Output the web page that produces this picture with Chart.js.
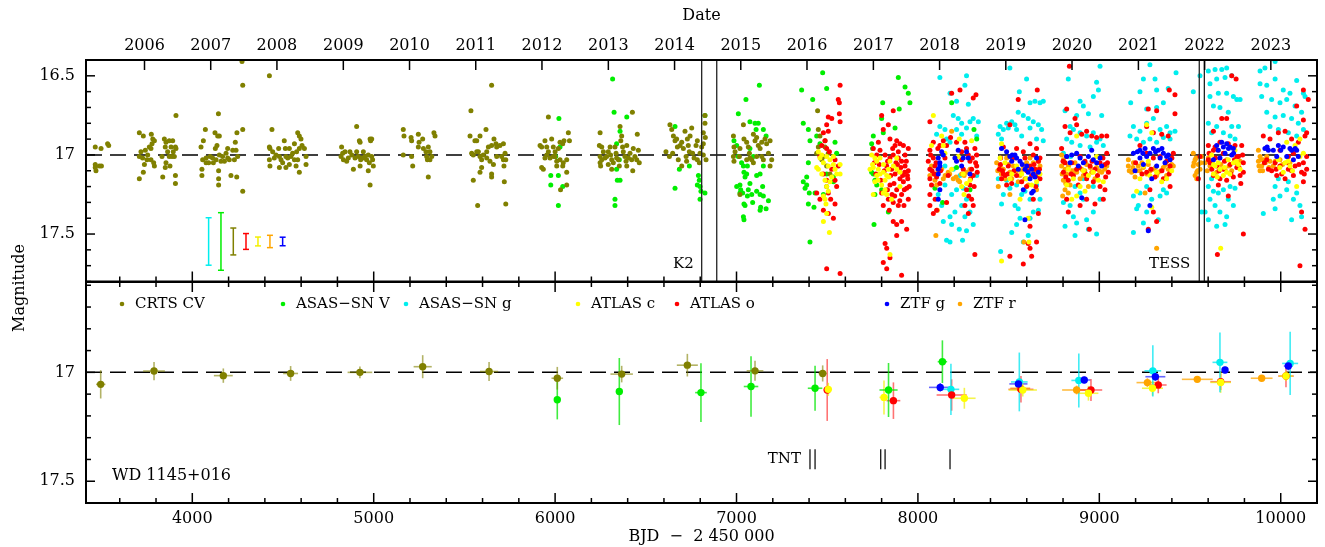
<!DOCTYPE html>
<html><head><meta charset="utf-8">
<script src="https://cdn.jsdelivr.net/npm/chart.js@4.4.0/dist/chart.umd.min.js"></script>
<style>
html,body{margin:0;padding:0;background:#fff;}
#wrap{position:relative;width:1325px;height:547px;overflow:hidden;background:#fff;}
#cTop{position:absolute;left:0;top:0;}
#cBot{position:absolute;left:0;top:270px;}
#ylab{position:absolute;left:19px;top:288px;transform:translate(-50%,-50%) rotate(-90deg);font-family:'DejaVu Serif',serif;font-size:16px;color:#000;white-space:nowrap;line-height:1;}
</style></head><body>
<div id="wrap">
<canvas id="cTop" width="1325" height="284"></canvas>
<canvas id="cBot" width="1325" height="277"></canvas>
<div id="ylab">Magnitude</div>
</div>
<script>
// ---------------- DATA (BJD - 2450000, magnitude) ----------------
const crtsCV = [
[3465,16.95],[3497,16.96],[3533,16.93],[3539,16.94],[3465,17.06],[3488,17.07],[3499,17.07],[3469,17.1],[3465,17.08],
[3708,16.86],[3730,16.88],[3774,16.87],[3782,16.9],[3791,16.91],[3778,16.93],[3763,16.95],[3741,16.97],[3717,16.98],[3708,17.01],[3726,17.02],[3754,17.0],[3772,17.03],[3787,17.05],[3736,17.06],[3791,17.07],[3730,17.11],[3708,17.15],[3846,16.9],[3855,16.92],[3873,16.91],[3892,16.91],[3883,16.95],[3907,16.95],[3851,16.95],[3864,16.98],[3895,16.98],[3910,16.96],[3833,17.01],[3873,17.01],[3901,17.01],[3855,17.05],[3851,17.08],[3877,17.07],[3837,17.14],[3907,17.13],[3907,17.18],[3910,16.75],[3888,17.01],[3772,16.96],[3750,17.03],
[4072,16.84],[4048,16.95],[4061,16.91],[4125,16.86],[4140,16.88],[4149,16.88],[4144,16.74],[4136,16.94],[4127,16.96],[4076,17.02],[4057,17.03],[4090,17.05],[4116,17.05],[4098,17.01],[4149,17.0],[4167,17.01],[4186,16.99],[4195,16.96],[4223,16.97],[4204,17.03],[4232,17.03],[4241,16.97],[4237,16.92],[4246,16.86],[4278,16.84],[4278,17.23],[4278,16.56],[4274,16.41],[4053,17.09],[4053,17.13],[4145,17.1],[4145,17.15],[4145,17.19],[4213,17.13],[4245,17.14],[4177,17.04],[4158,17.04],[4195,17.02],[4112,17.02],[4076,17.05],[4131,17.03],[4250,17.01],
[4425,16.5],[4439,16.84],[4425,16.95],[4428,16.96],[4443,16.98],[4425,17.03],[4428,17.07],[4452,17.02],[4476,16.96],[4480,17.01],[4489,17.03],[4498,17.05],[4507,16.91],[4513,16.96],[4516,17.01],[4526,17.02],[4535,17.06],[4544,17.01],[4553,16.99],[4563,17.03],[4572,17.07],[4581,16.86],[4590,16.88],[4599,16.9],[4605,16.94],[4590,16.96],[4575,16.98],[4581,17.03],[4618,16.96],[4627,17.01],[4627,17.06],[4590,17.11],[4480,17.08],[4516,17.08],[4461,17.0],[4535,16.96],[4563,16.93],
[4823,16.95],[4829,16.99],[4842,16.98],[4820,17.01],[4833,17.03],[4851,17.04],[4860,17.02],[4879,17.0],[4888,17.09],[4906,16.82],[4906,16.98],[4915,17.01],[4921,16.91],[4925,16.92],[4928,17.03],[4925,17.07],[4943,16.98],[4947,17.02],[4952,17.01],[4961,17.03],[4970,17.0],[4970,17.1],[4976,17.05],[4980,16.9],[4983,16.91],[4989,16.9],[4989,17.01],[4994,17.03],[4998,17.07],[4980,17.19],[4934,17.02],[4897,17.02],[4869,16.98],
[5163,16.84],[5167,16.88],[5163,17.0],[5206,16.89],[5209,16.91],[5215,17.07],[5246,16.87],[5250,16.92],[5246,16.95],[5270,16.9],[5274,16.96],[5292,17.01],[5296,17.03],[5301,16.95],[5301,17.14],[5310,16.98],[5320,17.01],[5332,16.86],[5338,16.88],[5310,17.03],[5209,17.01],[5288,16.98],
[5536,16.72],[5650,16.56],[5531,16.88],[5558,16.91],[5568,16.91],[5586,16.88],[5619,16.84],[5540,16.99],[5549,17.0],[5568,16.98],[5577,16.98],[5586,17.01],[5595,17.03],[5604,17.0],[5623,16.98],[5632,16.95],[5650,16.94],[5663,16.9],[5674,16.93],[5678,16.95],[5696,16.94],[5715,16.93],[5724,16.99],[5728,17.03],[5718,17.07],[5705,17.01],[5715,17.03],[5595,17.08],[5586,17.11],[5650,17.12],[5650,17.14],[5660,17.06],[5549,17.16],[5573,17.32],[5728,17.31],[5720,17.17],[5623,17.02],[5641,17.04],[5678,17.01],
[5963,16.76],[5917,16.94],[5926,16.95],[5944,16.91],[5954,16.95],[5963,16.98],[5981,16.9],[5990,16.95],[6000,16.98],[6018,16.96],[6027,16.92],[6042,16.93],[6049,16.91],[6073,16.86],[6079,16.91],[5944,17.02],[5972,17.02],[5990,17.01],[6009,17.04],[6027,17.03],[6045,17.05],[6064,17.03],[5926,17.08],[5935,17.09],[6009,17.07],[6042,17.07],[6064,17.11],[6064,17.19],[6030,17.22],[5954,17.0],[6000,17.01],
[6248,16.86],[6244,16.94],[6257,16.95],[6266,16.98],[6248,17.01],[6257,17.03],[6248,17.05],[6251,17.07],[6275,17.02],[6284,17.01],[6293,16.98],[6303,16.95],[6306,17.0],[6312,17.03],[6321,17.05],[6330,16.95],[6336,16.99],[6339,17.02],[6349,17.03],[6354,17.07],[6362,16.91],[6358,16.82],[6367,16.88],[6372,16.95],[6376,16.98],[6385,17.01],[6391,17.04],[6395,17.07],[6404,17.02],[6413,16.99],[6422,17.03],[6428,17.1],[6431,16.96],[6440,17.01],[6450,17.03],[6459,16.97],[6464,17.05],[6426,16.73],[6453,16.87],[6395,16.94],[6293,17.06],[6312,17.09],
[6611,16.98],[6633,16.81],[6643,16.84],[6652,16.88],[6661,16.91],[6670,16.9],[6674,16.95],[6689,16.94],[6698,16.92],[6707,16.96],[6716,16.85],[6722,17.01],[6729,16.9],[6734,16.94],[6740,16.98],[6744,16.88],[6753,16.83],[6758,16.99],[6766,17.02],[6777,16.94],[6784,17.03],[6795,17.05],[6799,16.99],[6808,16.95],[6817,16.93],[6826,16.8],[6826,16.75],[6828,16.89],[6832,17.03],[6817,16.86],[6630,17.01],[6648,16.99],[6679,17.03],[6725,17.04],[6817,17.0],[6784,16.91],[6698,17.07],
[6983,16.88],[6986,16.95],[6992,16.98],[6983,17.01],[6986,17.04],[7016,17.01],[7019,16.96],[7038,16.81],[7041,16.9],[7056,16.92],[7065,16.95],[7071,16.99],[7074,17.02],[7084,17.03],[7093,16.87],[7102,16.91],[7111,16.89],[7120,16.94],[7130,16.96],[7139,17.01],[7148,17.03],[7157,16.9],[7166,16.93],[7176,16.99],[7185,16.91],[7185,17.07],[7194,17.03],[7019,17.25],[7056,17.03],[7111,17.01],[7093,17.05],[7139,16.92],
[7447,16.72],[7451,16.84],[7460,16.88],[7488,16.95],[7506,16.99],[7479,17.01],[7497,17.07],[7515,17.12],[7470,17.03],[7442,16.99],[7451,16.95],[7497,17.2],[7488,16.91]
];
const asasSnV = [
[6021,16.77],[6027,16.95],[6003,17.01],[5976,17.13],[6018,17.13],[5976,17.19],[6042,17.2],[6018,17.32],
[6317,16.52],[6325,16.73],[6358,16.85],[6395,16.76],[6339,16.93],[6339,17.09],[6343,17.16],[6358,17.16],[6330,17.28],[6330,17.32],[6354,17.03],
[6661,16.82],[6685,17.09],[6661,17.21],[6740,17.07],[6790,17.13],[6784,17.19],[6799,17.2],[6799,17.28],[6826,16.75],[6826,17.24],[6804,17.23],[6795,17.16],
[7010,16.74],[7052,16.65],[7126,16.56],[6986,16.91],[7001,16.94],[7010,17.01],[7028,17.05],[7038,17.07],[7041,17.11],[7047,17.14],[7056,17.12],[7074,17.18],[7019,17.19],[7023,17.22],[7034,17.24],[7065,17.22],[7084,17.25],[7111,17.23],[7130,17.25],[7148,17.26],[7108,16.84],[7120,16.8],[7148,16.84],[7163,16.88],[7144,17.2],[7074,16.79],[7102,16.8],[7041,17.31],[7047,17.32],[7038,17.39],[7041,17.41],[7133,17.33],[7130,17.35],[7163,17.34],[7176,17.29],[7060,17.26],[7089,17.3],[7111,17.13],[7019,17.24],[7001,17.2],[7060,17.07],[7074,16.96],[7093,17.01],[7130,17.12],[7148,17.07],
[7359,16.59],[7475,16.48],[7497,16.58],[7420,16.65],[7368,16.8],[7396,16.84],[7405,16.91],[7442,16.88],[7460,16.93],[7396,17.05],[7368,17.17],[7378,17.21],[7401,17.24],[7396,17.31],[7427,17.33],[7405,17.55],[7543,16.92],[7552,16.99],[7534,17.14],[7534,17.17],[7479,17.25],[7387,17.14],[7387,17.19],[7433,17.24],[7497,17.12],
[7806,16.67],[7800,16.77],[7809,16.86],[7892,16.51],[7929,16.57],[7947,16.61],[7956,16.67],[7897,16.71],[7874,16.83],[7754,16.88],[7745,16.93],[7750,16.96],[7745,17.11],[7754,17.12],[7763,17.16],[7773,17.19],[7763,17.25],[7758,17.44],[7837,17.36],[7800,17.22],
[8186,16.67],[8309,16.84],[8324,16.9],[8213,17.08],[8094,17.21],[8287,17.22],[8136,17.3]
];
const asasSnG = [
[8121,16.51],[8268,16.5],[8177,16.61],[8213,16.66],[8259,16.56],[8278,16.68],[8195,16.75],[8222,16.77],[8121,16.82],[8149,16.84],[8213,16.84],[8241,16.8],[8268,16.83],[8287,16.79],[8305,16.77],[8324,16.88],[8103,16.87],[8158,16.9],[8177,16.92],[8241,16.87],[8333,16.79],[8149,17.07],[8195,17.09],[8232,17.13],[8213,17.22],[8250,17.21],[8268,17.28],[8241,17.32],[8204,17.36],[8177,17.39],[8140,17.42],[8186,17.44],[8228,17.47],[8268,17.48],[8305,17.44],[8158,17.54],[8177,17.55],[8246,17.54],[8131,17.32],[8112,17.25],[8287,17.36],[8259,17.39],[8149,17.19],[8324,17.13],[8186,17.25],
[8507,16.45],[8599,16.52],[8559,16.6],[8618,16.67],[8645,16.66],[8673,16.67],[8691,16.66],[8553,16.73],[8581,16.75],[8608,16.77],[8636,16.79],[8664,16.81],[8517,16.79],[8535,16.81],[8453,16.82],[8471,16.84],[8489,16.8],[8443,16.87],[8461,16.9],[8498,16.83],[8544,16.84],[8572,16.88],[8618,16.83],[8654,16.9],[8682,16.84],[8691,16.91],[8471,17.25],[8461,17.31],[8535,17.32],[8553,17.34],[8590,17.23],[8618,17.28],[8636,17.36],[8563,17.4],[8544,17.44],[8517,17.49],[8618,17.4],[8664,17.35],[8673,17.28],[8507,17.21],[8572,17.25],[8456,17.61],[8581,17.55],[8608,17.51],[8654,17.19],[8489,17.16],[8443,17.15],[8544,17.19],[8599,17.15],
[8829,16.52],[8811,16.72],[8894,16.66],[8912,16.69],[8940,16.74],[8967,16.63],[8985,16.54],[9004,16.44],[8875,16.75],[8839,16.82],[8857,16.84],[8894,16.86],[8930,16.88],[8967,16.86],[9004,16.9],[9022,16.94],[8848,16.92],[8894,16.94],[8949,16.95],[8985,16.92],[8820,16.9],[8802,16.99],[8866,17.2],[8894,17.24],[8912,17.28],[8839,17.32],[8857,17.39],[8875,17.43],[8930,17.41],[8967,17.36],[9004,17.28],[8811,17.45],[8866,17.51],[8940,17.47],[8985,17.5],[8995,16.59],[9013,16.75],[8912,17.15],[8967,17.2],[8802,17.3],[8842,17.01],
[9279,16.43],[9243,16.52],[9307,16.52],[9224,16.6],[9316,16.59],[9380,16.58],[9423,16.48],[9173,16.67],[9261,16.71],[9316,16.7],[9353,16.67],[9188,16.82],[9224,16.85],[9261,16.8],[9298,16.77],[9335,16.84],[9371,16.82],[9390,16.86],[9417,16.85],[9169,16.88],[9206,16.9],[9243,16.92],[9279,16.9],[9316,16.92],[9353,16.89],[9390,16.9],[9188,17.26],[9215,17.32],[9261,17.36],[9289,17.28],[9335,17.26],[9371,17.24],[9206,17.34],[9243,17.43],[9188,17.49],[9325,17.41],[9261,17.2],[9224,17.24],[9353,17.22],
[9518,16.6],[9555,16.5],[9564,17.36],[9601,16.47],[9638,16.46],[9675,16.46],[9702,16.45],[9610,16.55],[9647,16.52],[9693,16.51],[9730,16.5],[9610,16.63],[9656,16.61],[9702,16.61],[9739,16.63],[9629,16.69],[9665,16.7],[9711,16.73],[9758,16.65],[9767,16.82],[9601,16.8],[9619,16.86],[9647,16.82],[9684,16.86],[9721,16.88],[9748,16.9],[9601,17.2],[9629,17.23],[9656,17.24],[9684,17.22],[9721,17.2],[9748,17.21],[9610,17.28],[9638,17.32],[9665,17.36],[9702,17.39],[9739,17.32],[9601,17.41],[9647,17.45],[9693,17.44],[9619,17.15],[9711,17.28],[9583,17.36],[9776,16.65],[9730,16.82],
[9886,16.47],[9913,16.45],[9969,16.41],[9886,16.55],[9923,16.56],[9969,16.52],[10014,16.59],[10051,16.61],[10088,16.53],[10125,16.61],[9895,16.63],[9950,16.65],[9996,16.67],[10033,16.65],[10079,16.69],[10115,16.73],[10134,16.63],[9923,16.73],[9969,16.76],[10014,16.75],[10060,16.77],[10097,16.8],[9941,16.82],[9987,16.84],[10042,16.86],[10088,16.88],[10125,16.84],[9904,17.37],[9969,17.2],[9996,17.26],[10033,17.22],[10070,17.28],[10106,17.32],[9969,17.34],[10060,17.41],[10115,17.39],[9987,17.15],[10042,17.17],[10088,17.24],[9959,17.28]
];
const atlasC = [
[7451,16.98],[7460,17.02],[7479,17.05],[7442,17.08],[7470,17.12],[7497,17.01],[7506,17.07],[7515,17.03],[7525,17.14],[7534,17.06],[7543,17.09],[7552,17.12],[7571,17.06],[7488,17.16],[7497,17.2],[7506,17.23],[7488,17.28],[7493,17.31],[7497,17.37],[7479,17.42],[7512,17.49],[7451,17.09],[7470,17.0],[7515,17.17],[7534,17.01],[7479,17.26],[7571,17.12],
[7745,17.0],[7763,17.02],[7773,17.04],[7754,17.08],[7782,17.09],[7791,17.12],[7809,17.11],[7828,17.13],[7819,17.16],[7837,17.09],[7846,17.04],[7864,17.07],[7883,17.09],[7901,17.11],[7800,17.19],[7819,17.22],[7828,17.25],[7855,17.28],[7809,17.24],[7791,17.02],[7773,17.13],[7763,17.17],[7846,17.63],[7754,17.25],[7901,17.2],[7883,17.02],[7736,17.09],[7750,17.06],[7780,17.16],[7810,17.06],[7840,17.14],
[8085,16.75],[8228,16.9],[8140,16.94],[8222,17.01],[8250,17.12],[8287,17.16],[8241,17.2],[8268,17.18],[8186,17.09],[8075,16.94],[8149,16.99],[8254,17.25],[8296,16.91],[8131,16.88],
[8461,16.93],[8453,17.02],[8480,17.05],[8517,17.12],[8572,17.12],[8599,17.15],[8627,17.19],[8654,17.17],[8563,17.28],[8608,17.4],[8461,17.67],[8612,17.55],[8544,17.07],[8673,17.12],[8507,17.15],
[8875,16.88],[8829,17.09],[8857,17.15],[8894,17.2],[8921,17.23],[8940,17.13],[8967,17.11],[8995,17.16],[9022,17.17],[8875,17.26],[8912,17.1],[8820,17.19],[8848,17.28],[8985,17.01],
[9261,16.81],[9289,16.86],[9243,17.07],[9279,17.13],[9316,17.11],[9344,17.17],[9371,17.15],[9399,17.1],[9224,17.15],[9206,17.23],[9289,17.33],[9270,17.04],
[9619,17.0],[9638,17.07],[9665,17.09],[9684,17.13],[9711,17.03],[9739,17.05],[9767,17.06],[9629,17.12],[9702,17.11],[9656,17.05],[9748,16.97],[9669,17.59],[9776,17.09],[9630,17.06],[9650,17.14],[9690,17.08],[9720,17.12],[9755,17.04],
[10033,16.92],[10079,16.94],[10106,16.9],[9987,17.03],[10024,17.05],[10051,17.07],[10106,17.01],[10088,17.2],[10014,17.11],[10125,16.99],[9995,17.08],[10040,17.04],[10065,17.1]
];
const atlasO = [
[7571,16.56],[7561,16.65],[7567,16.67],[7567,16.74],[7571,16.79],[7506,16.76],[7525,16.77],[7497,16.81],[7479,16.86],[7506,16.85],[7488,16.91],[7470,16.94],[7497,16.96],[7512,16.98],[7543,17.03],[7460,17.01],[7525,17.09],[7479,17.12],[7497,17.16],[7552,17.2],[7506,17.24],[7543,17.31],[7442,17.24],[7460,17.28],[7479,17.35],[7506,17.37],[7534,17.4],[7497,17.72],[7571,17.75],[7519,17.28],[7543,17.16],[7561,17.07],
[7800,16.75],[7864,16.72],[7837,16.81],[7809,16.84],[7846,16.9],[7883,16.91],[7874,16.94],[7901,16.93],[7920,16.94],[7947,16.96],[7782,16.92],[7791,16.97],[7819,17.0],[7846,17.02],[7864,17.0],[7892,17.02],[7910,17.04],[7929,17.07],[7947,17.1],[7828,17.07],[7855,17.09],[7874,17.12],[7901,17.15],[7920,17.17],[7938,17.21],[7846,17.19],[7883,17.22],[7910,17.25],[7947,17.28],[7837,17.28],[7864,17.3],[7892,17.32],[7842,17.35],[7864,17.42],[7883,17.44],[7910,17.42],[7938,17.47],[7819,17.56],[7828,17.59],[7846,17.65],[7883,17.51],[7809,17.68],[7828,17.72],[7910,17.76],[7754,16.96],[7773,17.0],[7861,16.96],[7929,17.0],[7892,16.98],[7942,17.13],[7809,17.32],[7857,17.25],[7879,17.05],[7923,17.32],
[7760,17.05],[7768,17.12],[7787,17.06],[7795,17.16],[7815,17.1],[7833,17.04],[7850,17.13],[7868,17.18],[7887,17.06],[7896,17.1],[7906,17.08],[7916,17.13],[7927,17.11],[7936,17.04],[7944,17.15],[7952,17.2],[7800,17.24],[7832,17.22],[7872,17.26],[7900,17.29],[7925,17.22],
[8066,16.79],[8186,16.61],[8232,16.59],[8320,16.62],[8305,16.64],[8066,16.97],[8057,17.04],[8066,17.09],[8066,17.15],[8075,17.19],[8066,17.25],[8066,17.32],[8085,17.37],[8103,17.35],[8085,16.92],[8121,16.94],[8140,16.91],[8149,17.02],[8158,16.94],[8180,16.89],[8213,16.92],[8241,17.03],[8259,16.92],[8268,16.96],[8278,17.0],[8287,17.04],[8296,17.09],[8305,17.13],[8287,17.19],[8268,17.22],[8296,17.28],[8305,17.32],[8259,17.32],[8278,17.37],[8324,17.0],[8314,16.96],[8324,17.07],[8327,17.11],[8121,17.18],[8103,17.14],[8167,17.13],[8158,17.3],[8085,17.02],[8314,17.63],[8241,16.98],[8094,17.07],[8250,17.09],
[8070,17.0],[8078,17.1],[8090,17.12],[8100,17.05],[8110,16.96],[8125,17.1],[8290,17.15],[8300,17.02],[8310,17.2],[8318,17.05],[8280,17.26],[8095,17.28],
[8507,16.81],[8553,16.65],[8658,16.59],[8618,16.93],[8471,16.95],[8456,17.02],[8449,17.09],[8471,17.12],[8461,17.15],[8489,17.19],[8517,17.18],[8544,17.13],[8572,17.17],[8599,17.2],[8627,17.13],[8645,17.09],[8664,17.04],[8673,17.02],[8498,17.07],[8522,17.02],[8590,17.02],[8618,17.07],[8636,17.0],[8654,16.96],[8581,16.98],[8544,16.96],[8636,17.28],[8618,17.45],[8608,17.56],[8618,17.59],[8627,17.64],[8507,17.64],[8581,17.69],[8654,17.55],[8664,17.37],[8673,17.15],
[8455,17.06],[8466,17.1],[8480,17.13],[8495,17.12],[8530,17.1],[8600,17.1],[8640,17.06],[8660,17.13],[8670,17.09],[8650,17.2],
[8835,16.44],[8820,16.71],[8811,16.82],[8839,16.86],[8866,16.77],[8875,16.81],[8903,16.87],[8930,16.85],[8958,16.88],[8985,16.89],[9013,16.88],[9041,16.88],[8792,16.96],[8820,17.01],[8848,17.05],[8875,17.09],[8894,17.01],[8921,17.04],[8949,17.07],[8976,17.09],[9004,17.05],[9031,17.06],[9050,17.11],[8802,17.11],[8829,17.16],[8857,17.13],[8884,17.19],[8930,17.15],[8967,17.17],[9004,17.2],[9031,17.22],[8820,17.28],[8894,17.32],[8930,17.28],[8976,17.31],[9022,17.28],[8829,17.36],[8945,17.47],[9041,16.99],[8811,17.05],
[8800,17.04],[8815,17.14],[8845,17.12],[8890,17.08],[8925,17.12],[8960,17.04],[8990,17.13],[9020,17.02],[9035,17.14],[9045,17.05],
[9270,16.71],[9316,16.72],[9386,16.59],[9417,16.62],[9417,16.74],[9261,16.82],[9298,16.86],[9344,16.87],[9380,16.88],[9224,16.94],[9261,16.99],[9298,17.02],[9335,17.01],[9371,17.04],[9390,17.07],[9261,17.11],[9307,17.14],[9353,17.15],[9390,17.2],[9279,17.22],[9298,17.36],[9270,17.47],[9316,17.42],[9408,16.99],
[9200,17.05],[9235,17.12],[9285,17.09],[9345,17.1],[9385,17.12],[9400,17.02],
[9730,16.5],[9754,16.52],[9629,16.85],[9675,16.77],[9702,16.77],[9601,16.94],[9638,16.95],[9665,16.92],[9711,16.93],[9748,16.94],[9785,16.94],[9610,17.05],[9647,17.07],[9684,17.09],[9721,17.06],[9758,17.08],[9794,17.05],[9629,17.13],[9665,17.15],[9702,17.16],[9739,17.14],[9776,17.13],[9629,16.97],[9684,16.99],[9758,17.01],[9794,17.11],[9656,17.19],[9711,17.26],[9794,17.5],[9651,17.63],[9767,17.01],[9601,17.03],[9555,17.01],[9546,17.15],
[9605,16.99],[9620,17.09],[9640,17.02],[9660,17.1],[9690,17.04],[9725,17.12],[9745,17.03],[9770,17.08],[9790,17.0],[9780,17.18],
[9904,16.88],[9941,16.9],[9987,16.86],[10024,16.85],[10060,16.9],[10097,16.92],[10134,16.88],[9923,17.03],[9969,17.05],[9996,17.07],[10042,17.09],[10079,17.07],[10125,17.05],[9932,17.09],[9978,17.13],[10024,17.15],[10070,17.13],[10115,17.11],[10125,16.59],[10152,16.65],[10088,16.69],[10125,16.78],[10143,16.86],[10042,17.01],[10125,17.17],[10115,17.36],[10134,17.47],[10106,17.7],[10070,16.99],[9996,16.97],[10143,17.01],[10143,17.09],
[9910,17.05],[9950,17.1],[9975,17.09],[10005,17.12],[10035,17.05],[10060,17.1],[10100,17.06],[10130,17.12]
];
const ztfG = [
[8112,17.02],[8121,17.07],[8112,17.09],[8121,17.05],[8140,17.0],[8204,17.02],[8213,17.04],[8241,17.07],[8250,17.02],[8278,17.02],[8287,17.12],[8222,16.97],[8112,17.28],[8121,17.22],[8112,17.12],[8131,16.98],[8268,16.98],
[8461,16.96],[8507,17.01],[8517,17.04],[8535,17.0],[8544,17.02],[8563,17.04],[8590,17.09],[8608,17.11],[8627,17.09],[8636,17.12],[8645,17.14],[8664,17.11],[8581,17.22],[8627,17.24],[8636,17.23],[8590,17.41],[8489,16.98],[8553,17.09],[8618,17.15],[8654,17.02],[8520,17.0],[8575,17.06],[8600,17.07],
[8820,17.01],[8848,17.0],[8875,16.99],[8894,17.02],[8912,17.05],[8940,17.01],[8967,17.03],[8985,17.05],[9004,17.02],[9013,17.07],[8884,17.07],[8903,17.27],[8958,16.97],[8839,17.05],
[9188,16.99],[9224,16.97],[9252,16.96],[9279,16.99],[9298,16.96],[9325,16.97],[9353,16.99],[9371,17.01],[9390,17.03],[9224,17.02],[9261,17.01],[9335,17.02],[9362,17.05],[9197,17.1],[9243,17.06],[9279,17.32],[9270,17.48],[9289,17.15],[9316,17.07],[9210,16.98],[9240,16.99],[9310,16.98],[9345,16.96],[9380,17.0],
[9647,16.94],[9675,16.92],[9702,16.93],[9721,16.95],[9739,16.96],[9693,16.99],[9665,17.02],[9629,17.03],[9730,17.0],[9684,16.95],[9655,16.97],[9712,16.96],[9740,16.99],
[9913,16.96],[9932,16.97],[9959,16.97],[9987,16.94],[10014,16.95],[10051,16.96],[10088,16.97],[9978,17.01],[10033,17.01],[10070,17.03],[10097,17.01],[9925,16.95],[10000,16.97],[10060,16.97],[10080,16.96]
];
const ztfR = [
[8186,16.85],[8075,17.07],[8085,17.12],[8094,17.16],[8103,17.19],[8131,17.09],[8167,17.11],[8195,17.15],[8222,17.16],[8241,17.12],[8268,17.11],[8099,17.51],[8107,17.35],[8066,17.13],[8140,17.15],[8287,17.09],
[8110,17.1],[8150,17.13],[8175,17.12],[8210,17.14],[8230,17.17],[8255,17.13],
[8434,17.05],[8453,17.07],[8471,17.09],[8489,17.02],[8507,17.11],[8526,17.07],[8544,17.1],[8563,17.13],[8581,17.07],[8599,17.05],[8618,17.02],[8636,17.05],[8654,17.09],[8673,17.07],[8480,17.15],[8517,17.15],[8553,17.17],[8590,17.15],[8443,17.2],[8507,17.25],[8654,17.22],[8584,17.55],[8535,17.02],[8608,17.19],
[8440,17.1],[8460,17.12],[8500,17.06],[8520,17.12],[8570,17.1],[8610,17.08],[8640,17.11],[8665,17.04],
[8792,17.0],[8802,17.03],[8792,17.07],[8811,17.09],[8820,17.12],[8802,17.16],[8811,17.22],[8798,17.26],[8829,17.24],[8848,17.1],[8875,17.11],[8903,17.09],[8930,17.06],[8958,17.11],[8985,17.08],[9013,17.11],[9041,17.07],[8894,17.15],[8940,17.2],[8976,17.15],[8839,17.19],[8866,17.05],[8912,17.13],
[8795,17.12],[8808,17.05],[8815,17.18],[8830,17.07],[8860,17.1],[8920,17.1],[8950,17.08],[9000,17.1],[9030,17.09],
[9160,17.03],[9188,17.05],[9215,17.07],[9243,17.08],[9270,17.06],[9298,17.09],[9325,17.11],[9353,17.08],[9380,17.09],[9408,17.07],[9178,17.11],[9224,17.1],[9261,17.12],[9316,17.13],[9371,17.13],[9160,17.07],[9197,17.14],[9252,17.24],[9316,17.59],[9399,17.06],
[9165,17.1],[9185,17.08],[9205,17.1],[9235,17.05],[9280,17.1],[9310,17.08],[9340,17.1],[9365,17.06],[9390,17.1],
[9518,16.99],[9528,17.03],[9518,17.07],[9537,17.11],[9546,17.06],[9555,17.09],[9528,17.13],[9564,17.01],[9583,17.05],[9610,17.07],[9647,17.11],[9693,17.09],[9730,17.1],[9776,17.04],[9601,17.02],[9656,16.97],[9702,17.03],[9537,17.15],
[9522,17.05],[9533,17.02],[9542,17.1],[9560,17.05],[9595,17.1],[9625,17.04],[9670,17.06],[9715,17.07],[9750,17.05],
[9877,16.97],[9886,17.01],[9877,17.04],[9895,17.07],[9886,17.1],[9904,17.03],[9923,17.01],[9941,17.04],[9959,17.07],[9996,17.03],[10051,17.05],
[9880,17.07],[9893,17.03],[9900,17.1],[9915,17.05],[9935,17.08],[9970,17.04],[10010,17.06]
];

// Binned light curve (lower panel): [BJD, mag, half-width in days, mag error]
const crtsBin = [[3495,17.055,26,0.065],[3789,16.994,60,0.042],[4171,17.015,52,0.033],[4542,17.005,41,0.034],[4924,17.0,68,0.027],[5270,16.974,50,0.053],[5636,16.996,50,0.044],[6012,17.027,32,0.052],[6367,17.008,62,0.038],[6729,16.967,58,0.052],[7102,16.993,46,0.046],[7475,17.005,23,0.037]];
const asasVBin = [[6012,17.126,8,0.09],[6354,17.088,8,0.154],[6804,17.093,32,0.135],[7080,17.065,40,0.139],[7433,17.073,40,0.103],[7838,17.081,50,0.124],[8135,16.951,26,0.098]];
const asasGBin = [[8182,17.078,46,0.118],[8559,17.044,46,0.135],[8887,17.037,41,0.124],[9295,16.993,46,0.118],[9665,16.954,41,0.137],[10052,16.959,44,0.145]];
const atlasCBin = [[7506,17.078,20,0.03],[7813,17.115,25,0.078],[8256,17.119,62,0.048],[8578,17.081,78,0.03],[8940,17.096,55,0.034],[9293,17.073,58,0.034],[9669,17.046,57,0.048],[10029,17.017,40,0.023]];
const atlasOBin = [[7500,17.081,20,0.142],[7865,17.13,38,0.084],[8186,17.104,83,0.072],[8568,17.078,69,0.061],[8954,17.081,62,0.05],[9325,17.058,46,0.038],[9669,17.043,57,0.038],[10029,17.017,43,0.051]];
const ztfGBin = [[8123,17.069,62,0.02],[8554,17.053,50,0.02],[8917,17.035,34,0.015],[9309,17.02,55,0.02],[9693,16.989,15,0.015],[10042,16.971,25,0.02]];
const ztfRBin = [[8564,17.073,55,0.02],[8875,17.081,80,0.02],[9265,17.047,60,0.02],[9540,17.032,85,0.01],[9895,17.027,60,0.01]];

// Typical single-point errors (upper panel): [BJD position, half error]
const typErrMag = 17.547;
const typErr = {
  'ASAS−SN g':[4090,0.15], 'ASAS−SN V':[4158,0.182], 'CRTS CV':[4226,0.085],
  'ATLAS o':[4296,0.05], 'ATLAS c':[4362,0.028], 'ZTF r':[4428,0.039], 'ZTF g':[4498,0.027]
};

const yearTicks = [2006,2007,2008,2009,2010,2011,2012,2013,2014,2015,2016,2017,2018,2019,2020,2021,2022,2023];
const bjdLabelTicks = [4000,5000,6000,7000,8000,9000,10000];
const topMagTicks = [16.5,17,17.5];
const botMagTicks = [17,17.5];
const k2Window = [6808,6891];
const tessWindow = [9551,9579];
const tntDates = [7405,7433,7795,7819,8177];
const refMag = 17;

// ---------------- STYLE ----------------
const FONT = "'DejaVu Serif', serif";
const series = [
  {name:'CRTS CV',   pts:crtsCV,  bins:crtsBin,  color:'#808000', err:'rgba(128,128,0,0.6)', order:4},
  {name:'ASAS−SN V', pts:asasSnV, bins:asasVBin, color:'#00ee00', err:'rgba(0,230,0,0.75)', order:5},
  {name:'ASAS−SN g', pts:asasSnG, bins:asasGBin, color:'#00eeee', err:'rgba(0,230,240,0.75)', order:6},
  {name:'ATLAS c',   pts:atlasC,  bins:atlasCBin,color:'#ffff00', err:'rgba(240,240,0,0.7)', order:1},
  {name:'ATLAS o',   pts:atlasO,  bins:atlasOBin,color:'#ff0000', err:'rgba(255,0,0,0.55)', order:2},
  {name:'ZTF g',     pts:ztfG,    bins:ztfGBin,  color:'#0000ff', err:'rgba(0,0,255,0.6)', order:0},
  {name:'ZTF r',     pts:ztfR,    bins:ztfRBin,  color:'#ffa500', err:'rgba(255,165,0,0.75)', order:3}
];
const legendX = [122,283,406,578,677,887,960];

function yearToBjd(y){ return Date.UTC(y,0,1)/864e5 + 2440587.5 - 2450000; }
const bjdMin = 3414, bjdMax = 10200;

function line(ctx,x1,y1,x2,y2){ctx.beginPath();ctx.moveTo(x1,y1);ctx.lineTo(x2,y2);ctx.stroke();}
function isMajor(v,step){ return Math.abs(v/step - Math.round(v/step)) < 1e-6; }

function drawFrame(chart, magLo, magHi, topYears){
  const {ctx, chartArea:a, scales:{x,y}} = chart;
  ctx.save();
  ctx.strokeStyle='#000'; ctx.lineWidth=1.5;
  for(let v=3600; v<=10200; v+=200){
    const px = x.getPixelForValue(v); const L = isMajor(v,1000)?10:5;
    line(ctx,px,a.bottom,px,a.bottom-L);
    if(!topYears) line(ctx,px,a.top,px,a.top+L);
  }
  if(topYears){
    yearTicks.forEach(yr=>{const px=x.getPixelForValue(yearToBjd(yr)); line(ctx,px,a.top,px,a.top+10);});
  }
  for(let k=0; ; k++){
    const v = +(magLo + k*0.1).toFixed(2); if(v>magHi+1e-6) break;
    const py = y.getPixelForValue(v); const L = isMajor(v,0.5)?9:5;
    line(ctx,a.left,py,a.left+L,py);
    line(ctx,a.right,py,a.right-L,py);
  }
  ctx.lineWidth=2;
  ctx.strokeRect(a.left,a.top,a.right-a.left,a.bottom-a.top);
  ctx.restore();
}
function drawDashed(chart){
  const {ctx, chartArea:a, scales:{y}} = chart;
  const py = y.getPixelForValue(refMag);
  ctx.save(); ctx.strokeStyle='#000'; ctx.lineWidth=1.5; ctx.setLineDash([16,8]);
  line(ctx,a.left,py,a.right,py); ctx.restore();
}

const topDecor = {
  id:'topDecor',
  beforeDatasetsDraw(chart){
    const {ctx, scales:{x,y}} = chart;
    drawDashed(chart);
    ctx.save(); ctx.lineWidth=1.5;
    series.forEach(s=>{
      const t = typErr[s.name]; if(!t) return;
      const px = x.getPixelForValue(t[0]);
      const y1 = y.getPixelForValue(typErrMag - t[1]), y2 = y.getPixelForValue(typErrMag + t[1]);
      ctx.strokeStyle = s.color === '#ffff00' ? '#f4f000' : s.color;
      line(ctx,px,y1,px,y2); line(ctx,px-3,y1,px+3,y1); line(ctx,px-3,y2,px+3,y2);
    });
    ctx.restore();
  },
  afterDatasetsDraw(chart){
    const {ctx, chartArea:a, scales:{x}} = chart;
    ctx.save(); ctx.strokeStyle='#222'; ctx.lineWidth=1.3;
    [...k2Window, ...tessWindow].forEach(v=>{const px=x.getPixelForValue(v); line(ctx,px,a.top,px,a.bottom);});
    ctx.fillStyle='#000'; ctx.font='15px '+FONT; ctx.textAlign='right'; ctx.textBaseline='middle';
    ctx.fillText('K2', x.getPixelForValue(k2Window[0])-8, a.bottom-17);
    ctx.fillText('TESS', x.getPixelForValue(tessWindow[0])-9, a.bottom-17);
    ctx.restore();
  },
  afterDraw(chart){ drawFrame(chart, 16.4, 17.8, true); }
};

const botDecor = {
  id:'botDecor',
  beforeDatasetsDraw(chart){
    const {ctx, scales:{x,y}} = chart;
    drawDashed(chart);
    ctx.save(); ctx.lineWidth=1.6;
    chart.data.datasets.slice().reverse().forEach(ds=>{
      ctx.strokeStyle = ds.errColor;
      ds.data.forEach(p=>{
        const px=x.getPixelForValue(p.x), py=y.getPixelForValue(p.y);
        line(ctx, x.getPixelForValue(p.x-p.xe), py, x.getPixelForValue(p.x+p.xe), py);
        line(ctx, px, y.getPixelForValue(p.y-p.ye), px, y.getPixelForValue(p.y+p.ye));
      });
    });
    ctx.strokeStyle='#000'; ctx.lineWidth=1.2;
    tntDates.forEach(v=>{const px=x.getPixelForValue(v); line(ctx,px,y.getPixelForValue(17.353),px,y.getPixelForValue(17.445));});
    ctx.restore();
  },
  afterDraw(chart){
    const {ctx, chartArea:a, scales:{x,y}} = chart;
    drawFrame(chart, 16.6, 17.5, false);
    ctx.save();
    ctx.fillStyle='#000'; ctx.font='15px '+FONT; ctx.textBaseline='middle';
    ctx.textAlign='right';
    ctx.fillText('TNT', x.getPixelForValue(tntDates[0])-9, y.getPixelForValue(17.399));
    ctx.textAlign='left'; ctx.font='16px '+FONT;
    ctx.fillText('WD 1145+016', a.left+26, a.bottom-27);
    ctx.font='15px '+FONT;
    series.forEach((s,i)=>{
      const ly = a.top+22;
      ctx.fillStyle=s.color; ctx.beginPath(); ctx.arc(legendX[i], ly, 2.3, 0, Math.PI*2); ctx.fill();
      ctx.fillStyle='#000'; ctx.fillText(s.name, legendX[i]+13, ly);
    });
    ctx.restore();
  }
};

const commonY = (min,max,ticks)=>({
  type:'linear', reverse:true, min, max, position:'left',
  grid:{display:false, drawTicks:false}, border:{display:false},
  afterBuildTicks:s=>{ s.ticks = ticks.map(v=>({value:v})); },
  ticks:{padding:11, color:'#000', font:{family:FONT,size:16}, callback:v=>String(v)},
  afterFit:s=>{ s.width = 86; s.paddingTop = 0; s.paddingBottom = 0; }
});

new Chart(document.getElementById('cTop'), {
  type:'scatter',
  data:{datasets: series.map(s=>({
    label:s.name, xAxisID:'x', yAxisID:'y',
    data:s.pts.map(p=>({x:p[0], y:p[1]})),
    backgroundColor:s.color, borderColor:s.color, borderWidth:0,
    pointRadius:2.5, pointHoverRadius:2.5, order:s.order
  }))},
  options:{
    responsive:false, animation:false, devicePixelRatio:1, events:[],
    layout:{padding:{left:0,right:8,top:0,bottom:2}},
    plugins:{legend:{display:false}, tooltip:{enabled:false}},
    scales:{
      x:{type:'linear', min:bjdMin, max:bjdMax, display:false},
      xTop:{type:'linear', position:'top', min:bjdMin, max:bjdMax,
        grid:{display:false, drawTicks:false}, border:{display:false},
        afterBuildTicks:s=>{ s.ticks = yearTicks.map(yr=>({value:yearToBjd(yr)})); },
        ticks:{autoSkip:false, maxRotation:0, padding:5, color:'#000', font:{family:FONT,size:16},
          callback:(v,i)=>String(yearTicks[i])},
        title:{display:true, text:'Date', color:'#000', font:{family:FONT,size:16}, padding:{top:6,bottom:0}},
        afterFit:s=>{ s.height = 60; s.paddingLeft = 0; s.paddingRight = 0; }
      },
      y: commonY(16.4, 17.8, topMagTicks)
    }
  },
  plugins:[topDecor]
});

new Chart(document.getElementById('cBot'), {
  type:'scatter',
  data:{datasets: series.map(s=>({
    label:s.name, xAxisID:'x', yAxisID:'y', errColor:s.err,
    data:s.bins.map(b=>({x:b[0], y:b[1], xe:b[2], ye:b[3]})),
    backgroundColor:s.color, borderColor:s.color, borderWidth:0,
    pointRadius:3.7, pointHoverRadius:3.7, order:s.order
  }))},
  options:{
    responsive:false, animation:false, devicePixelRatio:1, events:[],
    layout:{padding:{left:0,right:8,top:12,bottom:0}},
    plugins:{legend:{display:false}, tooltip:{enabled:false}},
    scales:{
      x:{type:'linear', position:'bottom', min:bjdMin, max:bjdMax,
        grid:{display:false, drawTicks:false}, border:{display:false},
        afterBuildTicks:s=>{ s.ticks = bjdLabelTicks.map(v=>({value:v})); },
        ticks:{autoSkip:false, maxRotation:0, padding:6, color:'#000', font:{family:FONT,size:16}, callback:v=>String(v)},
        title:{display:true, text:'BJD  −  2 450 000', color:'#000', font:{family:FONT,size:16}, padding:{top:0,bottom:1}},
        afterFit:s=>{ s.height = 44; s.paddingLeft = 0; s.paddingRight = 0; }
      },
      y: commonY(16.585, 17.6, botMagTicks)
    }
  },
  plugins:[botDecor]
});
</script>
</body></html>
